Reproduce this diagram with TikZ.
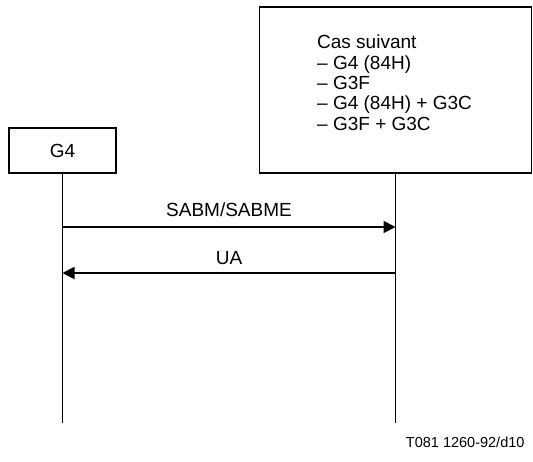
\documentclass[tikz,border=0pt]{standalone}
\usepackage{fontspec}
\setmainfont{Liberation Sans}
\usetikzlibrary{positioning,arrows.meta}

\begin{document}
\begin{tikzpicture}[x=1pt, y=-1pt, font=\fontsize{19}{20.3}\selectfont,
    box/.style={draw, line width=1.2pt, inner sep=0pt},
    life/.style={line width=1.8pt},
    msg/.style={line width=1.8pt, -{Triangle[length=12pt, width=12pt]}}]
    \useasboundingbox (0,0) rectangle (533,461);

    \node (g4) [box, minimum width=107pt, minimum height=45pt] at (62.5,150.5) {G4};
    \node (cas) [box, minimum width=272pt, minimum height=166pt] at (395.5,90) {};
    \node (castext) [anchor=north west, align=left, inner sep=0pt] at (317,35)
        {Cas suivant\\-- G4 (84H)\\-- G3F\\-- G4 (84H) + G3C\\-- G3F + G3C};

    \coordinate (g4end) at (62.5,423);
    \coordinate (casend) at (395.5,423);
    \draw [life] (g4) -- (g4end);
    \draw [life] (cas) -- (casend);

    \coordinate (sabmA) at (62.5,227);
    \coordinate (sabmB) at (395.5,227);
    \coordinate (uaA) at (62.5,273);
    \coordinate (uaB) at (395.5,273);
    \draw [msg] (sabmA) -- node[above=6pt] {SABM/SABME} (sabmB);
    \draw [msg] (uaB) -- node[above=4pt] {UA} (uaA);

    \node (ref) [anchor=east, font=\fontsize{14.5}{16}\selectfont] at (528,442) {T081 1260-92/d10};
\end{tikzpicture}
\end{document}
